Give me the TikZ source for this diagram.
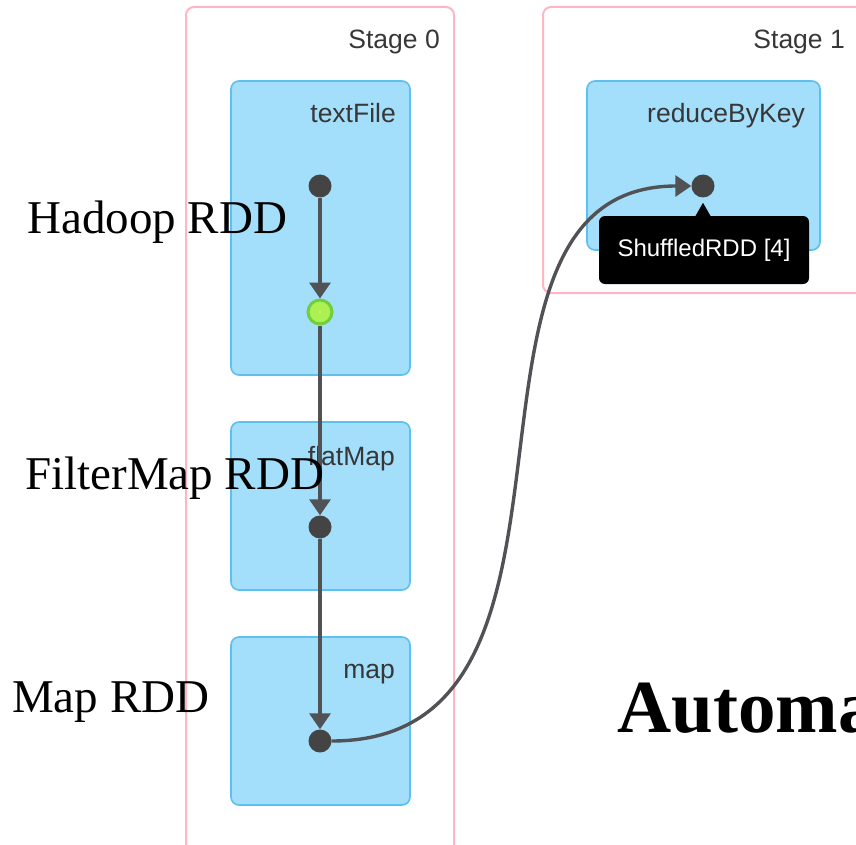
\documentclass[tikz,border=0pt]{standalone}
\usepackage{fontspec}
\setmainfont{Liberation Serif}
\newfontfamily\uifont{Liberation Sans}
\usetikzlibrary{arrows.meta}
\definecolor{stagepink}{RGB}{255,182,196}
\definecolor{opfill}{RGB}{163,222,250}
\definecolor{opedge}{RGB}{92,192,240}
\definecolor{dotgray}{RGB}{68,68,68}
\definecolor{linegray}{RGB}{80,82,86}
\definecolor{cachegreen}{RGB}{172,240,82}
\definecolor{cacheedge}{RGB}{112,205,62}
\definecolor{labelgray}{RGB}{55,55,55}
\begin{document}
\begin{tikzpicture}[x=1pt,y=-1pt,
  stagebox/.style={draw=stagepink, line width=2pt, rounded corners=8pt, inner sep=0pt, fill=white},
  opbox/.style={draw=opedge, fill=opfill, line width=1.6pt, rounded corners=8pt, inner sep=0pt},
  rdd/.style={circle, fill=dotgray, minimum size=23pt, inner sep=0pt},
  cached/.style={circle, fill=cachegreen, draw=cacheedge, line width=3pt, minimum size=24pt, inner sep=0pt},
  dep/.style={draw=linegray, line width=3.4pt, -{Triangle[length=16pt,width=21pt]}},
  uilabel/.style={font=\uifont\fontsize{26.5}{30}\selectfont, text=labelgray, inner sep=0pt, anchor=base east},
  rddname/.style={font=\fontsize{47}{50}\selectfont, inner sep=0pt, anchor=base west},
  tipbox/.style={fill=black, rounded corners=6pt, inner sep=0pt, text=white,
    font=\uifont\fontsize{24}{28}\selectfont}]
\useasboundingbox (0,0) rectangle (856,845);
\clip (0,0) rectangle (856,845);

% stages
\node[stagebox, minimum width=268pt, minimum height=870pt] (s0) at (320,442) {};
\node[stagebox, minimum width=357pt, minimum height=286pt] (s1) at (721.5,150) {};
\node[uilabel] (s0lab) at (440,49) {Stage 0};
\node[uilabel] (s1lab) at (845,49) {Stage 1};

% operation boxes
\node[opbox, minimum width=179pt, minimum height=294pt] (tf) at (320.5,228) {};
\node[opbox, minimum width=179pt, minimum height=168pt] (fm) at (320.5,506) {};
\node[opbox, minimum width=179pt, minimum height=168pt] (mp) at (320.5,721) {};
\node[opbox, minimum width=233pt, minimum height=169pt] (rk) at (703.5,165.5) {};
\node[uilabel] (tflab) at (396,123) {textFile};
\node[uilabel] (fmlab) at (395,465) {flatMap};
\node[uilabel] (mplab) at (395,678) {map};
\node[uilabel] (rklab) at (805,123) {reduceByKey};

% RDD dots
\node[rdd] (d1) at (320,186) {};
\node[cached] (d2) at (320,312) {};
\node[rdd] (d3) at (320,527) {};
\node[rdd] (d4) at (320,741) {};
\node[rdd] (d5) at (703,186) {};

% dependencies
\draw[dep] (d1) -- (d2);
\draw[dep] (d2) -- (d3);
\draw[dep] (d3) -- (d4);
\draw[dep] (d4) .. controls +(306,0) and +(-283,0) .. (d5);

% tooltip
\node[tipbox, minimum width=210pt, minimum height=68pt] (tt) at (704,250) {ShuffledRDD [4]};
\fill[black] (d5 |- tt.north) ++(-8,1) -- ++(8,-14) -- ++(8,14) -- cycle;

% RDD names
\node[rddname] (hadoop) at (27,233) {Hadoop RDD};
\node[rddname] (filtermap) at (25,489) {FilterMap RDD};
\node[rddname] (maprdd) at (12,712) {Map RDD};
\node[anchor=base west, inner sep=0pt, font=\bfseries\fontsize{75}{80}\selectfont] (auto) at (617,732) {Automa};
\end{tikzpicture}
\end{document}
